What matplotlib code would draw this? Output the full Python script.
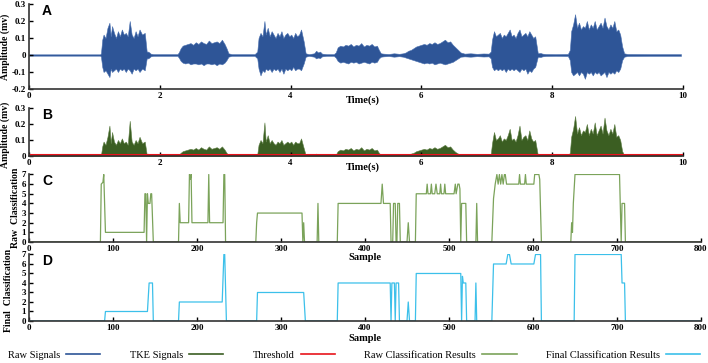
import matplotlib
matplotlib.use("Agg")
import matplotlib.pyplot as plt
from matplotlib.lines import Line2D

plt.rcParams['font.family'] = ['Liberation Serif', 'DejaVu Serif']

# ---- panel A / B: signal envelope (time in s) ----
t_env = [0, 1.09,
         1.10, 1.12, 1.14, 1.17, 1.20, 1.23, 1.25, 1.27, 1.30, 1.33, 1.36, 1.39, 1.42, 1.45, 1.48, 1.51, 1.54, 1.57, 1.60, 1.63, 1.66, 1.69, 1.73, 1.77, 1.80,
         1.82, 1.84, 1.86, 1.90, 2.27,
         2.29, 2.32, 2.35, 2.39, 2.43, 2.47, 2.51, 2.55, 2.59, 2.63, 2.67, 2.71, 2.75, 2.79, 2.83, 2.87, 2.91, 2.95, 2.99, 3.02, 3.05,
         3.10, 3.45,
         3.49, 3.51, 3.54, 3.57, 3.60, 3.62, 3.65, 3.68, 3.71, 3.74, 3.77, 3.80, 3.83, 3.86, 3.89, 3.92, 3.95, 3.98, 4.01, 4.04, 4.07, 4.10, 4.13, 4.16, 4.20, 4.23,
         4.28, 4.36, 4.39, 4.42, 4.45, 4.48, 4.55, 4.66,
         4.69, 4.72, 4.76, 4.80, 4.84, 4.88, 4.92, 4.96, 5.00, 5.04, 5.08, 5.12, 5.16, 5.20, 5.24, 5.28, 5.32, 5.35, 5.38,
         5.42, 5.50, 5.58, 5.66, 5.72,
         5.76, 5.80, 5.84, 5.88, 5.92, 5.96, 6.00, 6.04, 6.08, 6.12, 6.16, 6.20, 6.24, 6.28, 6.32, 6.36, 6.40, 6.44, 6.48, 6.52, 6.56, 6.60,
         6.66, 6.75, 6.85, 6.95, 7.03,
         7.06, 7.08, 7.11, 7.14, 7.17, 7.20, 7.23, 7.26, 7.29, 7.32, 7.35, 7.38, 7.41, 7.44, 7.47, 7.50, 7.53, 7.56, 7.59, 7.62, 7.65, 7.68, 7.71, 7.74, 7.78,
         7.82, 7.85, 7.90, 8.05, 8.24,
         8.27, 8.29, 8.32, 8.35, 8.38, 8.41, 8.44, 8.47, 8.50, 8.53, 8.56, 8.59, 8.62, 8.65, 8.68, 8.71, 8.74, 8.77, 8.80, 8.83, 8.86, 8.89, 8.92, 8.95, 8.98, 9.01, 9.04, 9.07, 9.10,
         9.15, 9.5, 9.97]

raw_upper = [0.004, 0.004,
             0.01, 0.09, 0.12, 0.10, 0.16, 0.19, 0.11, 0.17, 0.13, 0.10, 0.14, 0.11, 0.15, 0.12, 0.13, 0.11, 0.20, 0.12, 0.10, 0.14, 0.11, 0.15, 0.12, 0.13, 0.02,
             0.02, 0.015, 0.008, 0.005, 0.005,
             0.015, 0.04, 0.055, 0.06, 0.065, 0.07, 0.06, 0.075, 0.065, 0.08, 0.07, 0.065, 0.085, 0.07, 0.075, 0.08, 0.07, 0.09, 0.065, 0.04, 0.01,
             0.005, 0.005,
             0.02, 0.10, 0.13, 0.11, 0.20, 0.12, 0.16, 0.11, 0.14, 0.12, 0.10, 0.13, 0.11, 0.14, 0.10, 0.12, 0.13, 0.11, 0.12, 0.10, 0.13, 0.11, 0.12, 0.15, 0.08, 0.01,
             0.005, 0.01, 0.025, 0.015, 0.02, 0.008, 0.005, 0.005,
             0.015, 0.045, 0.055, 0.05, 0.06, 0.055, 0.065, 0.05, 0.06, 0.055, 0.07, 0.05, 0.06, 0.055, 0.065, 0.05, 0.055, 0.03, 0.01,
             0.008, 0.006, 0.01, 0.007, 0.01,
             0.015, 0.025, 0.03, 0.04, 0.05, 0.055, 0.06, 0.065, 0.06, 0.07, 0.065, 0.075, 0.065, 0.07, 0.08, 0.09, 0.075, 0.08, 0.06, 0.045, 0.03, 0.015,
             0.008, 0.01, 0.007, 0.009, 0.008,
             0.02, 0.09, 0.14, 0.11, 0.12, 0.13, 0.10, 0.12, 0.11, 0.13, 0.15, 0.11, 0.12, 0.10, 0.13, 0.15, 0.11, 0.12, 0.13, 0.11, 0.14, 0.12, 0.10, 0.11, 0.01,
             0.012, 0.008, 0.006, 0.005, 0.006,
             0.03, 0.14, 0.18, 0.24, 0.16, 0.19, 0.15, 0.17, 0.16, 0.20, 0.15, 0.18, 0.16, 0.20, 0.15, 0.17, 0.19, 0.16, 0.22, 0.17, 0.15, 0.18, 0.16, 0.20, 0.14, 0.15, 0.12, 0.05, 0.01,
             0.006, 0.005, 0.005]

raw_lower = [-0.004, -0.004,
             -0.01, -0.07, -0.10, -0.09, -0.11, -0.13, -0.08, -0.10, -0.09, -0.08, -0.10, -0.08, -0.09, -0.08, -0.10, -0.08, -0.09, -0.11, -0.08, -0.09, -0.08, -0.10, -0.08, -0.09, -0.02,
             -0.02, -0.015, -0.008, -0.005, -0.005,
             -0.015, -0.035, -0.045, -0.05, -0.045, -0.055, -0.05, -0.05, -0.055, -0.05, -0.06, -0.05, -0.05, -0.055, -0.05, -0.06, -0.05, -0.055, -0.045, -0.03, -0.01,
             -0.005, -0.005,
             -0.02, -0.08, -0.12, -0.09, -0.10, -0.08, -0.09, -0.08, -0.10, -0.08, -0.09, -0.08, -0.10, -0.08, -0.11, -0.08, -0.09, -0.08, -0.09, -0.07, -0.09, -0.08, -0.08, -0.09, -0.05, -0.01,
             -0.005, -0.01, -0.02, -0.015, -0.018, -0.008, -0.005, -0.005,
             -0.015, -0.035, -0.045, -0.04, -0.045, -0.05, -0.04, -0.045, -0.04, -0.05, -0.045, -0.04, -0.045, -0.05, -0.04, -0.045, -0.04, -0.02, -0.01,
             -0.008, -0.006, -0.01, -0.007, -0.01,
             -0.015, -0.02, -0.025, -0.03, -0.035, -0.04, -0.045, -0.05, -0.045, -0.05, -0.045, -0.055, -0.05, -0.045, -0.05, -0.055, -0.05, -0.045, -0.04, -0.03, -0.02, -0.01,
             -0.008, -0.01, -0.007, -0.009, -0.008,
             -0.02, -0.07, -0.09, -0.08, -0.09, -0.08, -0.09, -0.08, -0.10, -0.08, -0.09, -0.08, -0.09, -0.08, -0.09, -0.10, -0.08, -0.09, -0.08, -0.11, -0.09, -0.10, -0.08, -0.07, -0.01,
             -0.012, -0.008, -0.006, -0.005, -0.006,
             -0.03, -0.10, -0.12, -0.11, -0.10, -0.12, -0.10, -0.11, -0.14, -0.10, -0.11, -0.10, -0.12, -0.10, -0.11, -0.10, -0.12, -0.11, -0.10, -0.13, -0.10, -0.11, -0.10, -0.11, -0.09, -0.10, -0.08, -0.03, -0.01,
             -0.006, -0.005, -0.005]

tke_upper = [0.003, 0.003,
             0.005, 0.06, 0.09, 0.07, 0.12, 0.19, 0.08, 0.15, 0.09, 0.07, 0.10, 0.08, 0.11, 0.08, 0.09, 0.07, 0.22, 0.09, 0.07, 0.10, 0.08, 0.12, 0.08, 0.09, 0.01,
             0.015, 0.01, 0.006, 0.004, 0.004,
             0.008, 0.02, 0.03, 0.035, 0.04, 0.045, 0.04, 0.05, 0.04, 0.055, 0.045, 0.04, 0.06, 0.045, 0.05, 0.055, 0.045, 0.06, 0.04, 0.02, 0.006,
             0.004, 0.004,
             0.01, 0.07, 0.10, 0.08, 0.21, 0.09, 0.13, 0.08, 0.10, 0.08, 0.07, 0.09, 0.08, 0.10, 0.07, 0.08, 0.09, 0.08, 0.09, 0.07, 0.09, 0.08, 0.08, 0.11, 0.05, 0.006,
             0.004, 0.008, 0.015, 0.01, 0.012, 0.006, 0.004, 0.004,
             0.008, 0.03, 0.04, 0.035, 0.045, 0.04, 0.05, 0.035, 0.045, 0.04, 0.055, 0.035, 0.045, 0.04, 0.05, 0.035, 0.04, 0.02, 0.006,
             0.006, 0.005, 0.008, 0.005, 0.008,
             0.008, 0.012, 0.015, 0.02, 0.03, 0.035, 0.04, 0.045, 0.04, 0.05, 0.045, 0.055, 0.045, 0.05, 0.06, 0.07, 0.055, 0.06, 0.04, 0.025, 0.015, 0.008,
             0.005, 0.007, 0.005, 0.006, 0.005,
             0.01, 0.08, 0.15, 0.10, 0.11, 0.13, 0.09, 0.11, 0.10, 0.13, 0.17, 0.10, 0.11, 0.09, 0.13, 0.19, 0.10, 0.12, 0.13, 0.10, 0.16, 0.11, 0.09, 0.10, 0.006,
             0.008, 0.006, 0.004, 0.004, 0.004,
             0.02, 0.12, 0.17, 0.25, 0.14, 0.18, 0.13, 0.16, 0.15, 0.20, 0.13, 0.17, 0.14, 0.21, 0.13, 0.16, 0.19, 0.14, 0.24, 0.16, 0.13, 0.17, 0.14, 0.20, 0.12, 0.13, 0.10, 0.03, 0.006,
             0.004, 0.004, 0.004]

threshold_t = [0, 10]
threshold_val = [0.004, 0.004]

# ---- panel C: raw classification (sample, class) ----
c_sample = [0, 85, 86, 88, 89, 91, 137, 138, 139, 140, 141, 142, 144, 145, 146, 148,
            178, 179, 180, 190, 191, 192, 193, 194, 213, 214, 215, 231, 232, 233, 234,
            270, 271, 272, 325, 326, 327, 328, 343, 344, 345,
            367, 368, 419, 420.5, 422, 430, 431, 433, 434, 436, 437, 438, 439, 441, 442,
            450, 451.5, 453,
            460, 461, 473, 474, 475, 478, 479, 480, 483, 484.5, 486, 489, 490, 491, 494, 495, 496,
            506, 507.5, 508.5, 510.5, 512, 513, 514, 515, 520, 521,
            532, 533, 534,
            551, 553, 555, 557, 558.5, 560, 561.5, 563, 564.5, 566, 567, 568.5, 583, 584, 585,
            590, 591, 592, 601, 602, 607, 608, 610,
            645, 646, 647, 648, 650, 703, 705, 706, 709, 710, 800]
c_class = [0, 0, 6, 6.2, 7, 1, 1, 5, 5, 0, 5, 4, 4, 5, 5, 0,
           0, 4, 2, 2, 7, 6.5, 7, 2, 2, 7, 2, 2, 7, 7, 0,
           0, 2, 3, 3, 0, 2, 0, 0, 4, 0,
           0, 4, 4, 6, 4, 4, 0, 0, 4, 4, 0, 0, 4, 4, 0,
           0, 2, 0,
           0, 5, 5, 6, 5, 5, 6, 5, 5, 6, 5, 5, 6, 5, 5, 6, 5,
           5, 6, 5, 6, 6, 5.5, 0, 4, 4, 0,
           0, 4, 0,
           0, 4.5, 6, 7, 6, 7, 6, 7, 6, 7, 7, 6, 6, 7, 6,
           6, 7, 6, 6, 7, 7, 6.5, 0,
           0, 2, 1, 4, 7, 7, 0, 4, 4, 0, 0]

# ---- panel D: final classification (sample, class) ----
d_sample = [0, 90, 91, 141, 143, 147, 148,
            178, 179, 230, 232, 233, 235,
            271, 272, 327, 329,
            367, 368, 430, 431, 432, 435, 436, 437, 440, 441,
            450, 451.5, 453,
            460, 461, 514, 515, 516, 517, 520, 521,
            531, 532, 533,
            551, 553, 568, 570, 572, 574, 601, 603, 609, 610,
            649, 650, 705, 706, 709, 710, 800]
d_class = [0, 0, 1, 1, 4, 4, 0,
           0, 2, 2, 7, 7, 0,
           0, 3, 3, 0,
           0, 4, 4, 0, 4, 4, 0, 4, 4, 0,
           0, 2, 0,
           0, 5, 5, 0, 4.7, 4, 4, 0,
           0, 4, 0,
           0, 6, 6, 7, 7, 6, 6, 7, 7, 0,
           0, 7, 7, 4, 4, 0, 0]

c_blue = '#2E5597'
c_tke = '#3B5E22'
c_red = '#E8141B'
c_raw = '#7BA35A'
c_final = '#3CC0EA'

W, H = 708, 363
fig = plt.figure(figsize=(W / 100, H / 100), dpi=100)


def px_axes(x0, y_top, x1, y_bot):
    ax = fig.add_axes([x0 / W, 1 - y_bot / H, (x1 - x0) / W, (y_bot - y_top) / H])
    ax.patch.set_alpha(0)
    return ax


def style(ax, letter):
    for s in ['top', 'right']:
        ax.spines[s].set_visible(False)
    for s in ['left', 'bottom']:
        ax.spines[s].set_linewidth(1.2)
        ax.spines[s].set_color('#333333')
    ax.tick_params(direction='in', length=3, width=1, labelsize=6.5, pad=2)
    for lab in ax.get_xticklabels() + ax.get_yticklabels():
        lab.set_fontweight('bold')
    ax.text(0.02, 1.0, letter, transform=ax.transAxes, fontsize=10, fontweight='bold',
            family='Liberation Sans', va='top', ha='left')


lab_kw = dict(fontsize=7.5, fontweight='bold')

# A
axA = px_axes(29, 4, 683, 89)
axA.fill_between(t_env, raw_lower, raw_upper, color=c_blue, linewidth=0.4, edgecolor='#4A70B0')
axA.set_xlim(0, 10)
axA.set_ylim(-0.2, 0.3)
axA.set_xticks([0, 2, 4, 6, 8, 10])
axA.set_yticks([-0.2, -0.1, 0, 0.1, 0.2, 0.3])
axA.set_yticklabels(['-0.2', '-0.1', '0', '0.1', '0.2', '0.3'])
axA.set_xlabel('Time(s)', **lab_kw)
axA.xaxis.set_label_coords(0.51, -0.07)
axA.set_ylabel('Amplitude (mv)', fontsize=7, fontweight='bold')
axA.yaxis.set_label_coords(-0.029, 0.5)
style(axA, 'A')

# B
axB = px_axes(29, 108, 683, 156)
axB.fill_between(t_env, 0, tke_upper, color=c_tke, linewidth=0.4, edgecolor='#5E7F45')
axB.plot(threshold_t, threshold_val, color=c_red, linewidth=1.5)
axB.set_xlim(0, 10)
axB.set_ylim(0, 0.3)
axB.set_xticks([0, 2, 4, 6, 8, 10])
axB.set_yticks([0, 0.1, 0.2, 0.3])
axB.set_yticklabels(['0', '0.1', '0.2', '0.3'])
axB.set_xlabel('Time(s)', **lab_kw)
axB.xaxis.set_label_coords(0.51, -0.13)
axB.set_ylabel('Amplitude (mv)', fontsize=7, fontweight='bold')
axB.yaxis.set_label_coords(-0.029, 0.45)
style(axB, 'B')

# C
axC = px_axes(29, 174, 701, 242)
axC.plot(c_sample, c_class, color=c_raw, linewidth=0.9)
axC.set_xlim(0, 800)
axC.set_ylim(0, 7.05)
axC.set_xticks(range(0, 801, 100))
axC.set_yticks(range(0, 8))
axC.set_xlabel('Sample', **lab_kw)
axC.xaxis.set_label_coords(0.5, -0.16)
axC.set_ylabel('Raw  Classification', fontsize=7, fontweight='bold')
axC.yaxis.set_label_coords(-0.014, 0.5)
style(axC, 'C')

# D
axD = px_axes(29, 254, 701, 321)
axD.plot(d_sample, d_class, color=c_final, linewidth=0.9)
axD.set_xlim(0, 800)
axD.set_ylim(0, 7.05)
axD.set_xticks(range(0, 801, 100))
axD.set_yticks(range(0, 8))
axD.set_xlabel('Sample', **lab_kw)
axD.xaxis.set_label_coords(0.5, -0.2)
axD.set_ylabel('Final  Classification', fontsize=7, fontweight='bold')
axD.yaxis.set_label_coords(-0.024, 0.45)
style(axD, 'D')

handles = [Line2D([], [], color=c_blue, lw=1.2),
           Line2D([], [], color=c_tke, lw=1.2),
           Line2D([], [], color=c_red, lw=1.2),
           Line2D([], [], color=c_raw, lw=1.2),
           Line2D([], [], color=c_final, lw=1.2)]
labels = ['Raw Signals', 'TKE Signals', 'Threshold', 'Raw Classification Results', 'Final Classification Results']
fig.legend(handles, labels, loc='center', bbox_to_anchor=(0.5, 1 - 355 / H), ncol=5, frameon=False,
           markerfirst=False, handlelength=3.3, columnspacing=2.8, handletextpad=0.6, fontsize=7.5)

fig.savefig('out.png', dpi=100)
